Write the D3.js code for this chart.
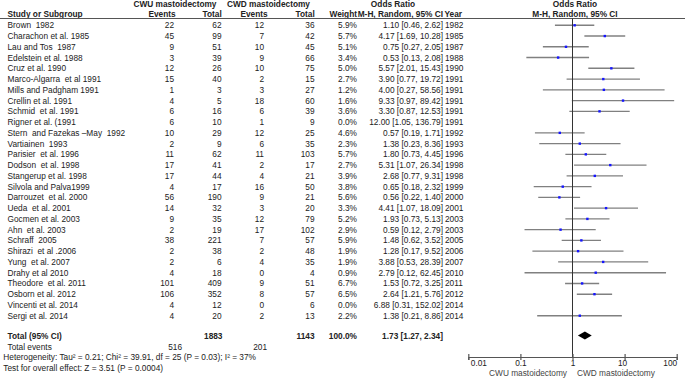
<!DOCTYPE html>
<html>
<head>
<meta charset="utf-8">
<script src="https://cdn.jsdelivr.net/npm/d3@7"></script>
<style>
  body { margin: 0; background: #fff; }
  svg text { font-family: "Liberation Sans", Arial, sans-serif; font-size: 8.3px; fill: #222; white-space: pre; }
  .bold { font-weight: bold; }
</style>
</head>
<body>
<svg id="chart" width="685" height="379"></svg>
<script>
const studies = ["Brown  1982", "Charachon et al. 1985", "Lau and Tos  1987", "Edelstein et al. 1988",
  "Cruz et al. 1990", "Marco-Algarra  et al 1991", "Mills and Padgham 1991", "Crellin et al. 1991",
  "Schmid  et al. 1991", "Rigner et al. (1991", "Stern  and Fazekas \u2013May  1992", "Vartiainen  1993",
  "Parisier  et al. 1996", "Dodson  et al. 1998", "Stangerup et al. 1998", "Silvola and Palva1999",
  "Darrouzet  et al. 2000", "Ueda  et al. 2001", "Gocmen et al. 2003", "Ahn  et al. 2003",
  "Schraff  2005", "Shirazi  et al .2006", "Yung  et al. 2007", "Drahy et al 2010",
  "Theodore  et al. 2011", "Osborn et al. 2012", "Vincenti et al. 2014", "Sergi et al. 2014"];
const cwuEvents = [22, 45, 9, 3, 12, 15, 1, 4, 6, 6, 10, 2, 11, 17, 17, 4, 56, 14, 9, 2, 38, 2, 2, 4, 101, 106, 4, 4];
const cwuTotal  = [62, 99, 51, 39, 26, 40, 3, 5, 16, 10, 29, 9, 62, 41, 44, 17, 190, 32, 35, 19, 221, 38, 6, 18, 409, 352, 12, 20];
const cwdEvents = [12, 7, 10, 9, 10, 2, 3, 18, 6, 1, 12, 6, 11, 2, 4, 16, 9, 3, 12, 17, 7, 2, 4, 0, 9, 8, 0, 2];
const cwdTotal  = [36, 42, 45, 66, 75, 15, 27, 60, 39, 9, 25, 35, 103, 17, 21, 50, 21, 20, 79, 102, 57, 48, 35, 4, 51, 57, 6, 13];
const weights   = [5.9, 5.7, 5.1, 3.4, 5.0, 2.7, 1.2, 1.6, 3.6, 0.0, 4.6, 2.3, 5.7, 2.7, 3.9, 3.8, 5.6, 3.3, 5.2, 2.9, 5.9, 1.9, 1.9, 0.9, 6.7, 6.5, 0.0, 2.2];
const orValues  = [1.10, 4.17, 0.75, 0.53, 5.57, 3.90, 4.00, 9.33, 3.30, 12.00, 0.57, 1.38, 1.80, 5.31, 2.68, 0.65, 0.56, 4.41, 1.93, 0.59, 1.48, 1.28, 3.88, 2.79, 1.53, 2.64, 6.88, 1.38];
const ciLow     = [0.46, 1.69, 0.27, 0.13, 2.01, 0.77, 0.27, 0.97, 0.87, 1.05, 0.19, 0.23, 0.73, 1.07, 0.77, 0.18, 0.22, 1.07, 0.73, 0.12, 0.62, 0.17, 0.53, 0.12, 0.72, 1.21, 0.31, 0.21];
const ciHigh    = [2.62, 10.28, 2.05, 2.08, 15.43, 19.72, 58.56, 89.42, 12.53, 136.79, 1.71, 8.36, 4.45, 26.34, 9.31, 2.32, 1.40, 18.09, 5.13, 2.79, 3.52, 9.52, 28.39, 62.45, 3.25, 5.76, 152.02, 8.86];
const years     = [1982, 1985, 1987, 1988, 1990, 1991, 1991, 1991, 1991, 1991, 1992, 1993, 1996, 1998, 1998, 1999, 2000, 2001, 2003, 2003, 2005, 2006, 2007, 2010, 2011, 2012, 2014, 2014];

const totalN = [1883, 1143];
const totalEvents = [516, 201];
const pooled = { or: 1.73, lo: 1.27, hi: 2.34 };
const axisTicks = [0.01, 0.1, 1, 10, 100];
const axisLabels = ["0.01", "0.1", "1", "10", "100"];

const fmt2 = d3.format(".2f");
const fmtW = d3.format(".1f");

const svg = d3.select("#chart");

const y = d3.scalePoint()
  .domain(d3.range(studies.length))
  .range([25.3, 315.7]);

const x = d3.scaleLog()
  .domain([0.01, 100])
  .range([468.3, 676.7]);

// column layout (x, anchor)
const cols = {
  name:   [7.5, "start"],
  cwuEv:  [174, "end"],
  cwuTot: [221.5, "end"],
  cwdEv:  [264, "end"],
  cwdTot: [314.5, "end"],
  weight: [357, "end"],
  or:     [443, "end"],
  year:   [445, "start"]
};

function addText(g, txt, xx, yy, anchor, cls) {
  return g.append("text")
    .attr("x", xx)
    .attr("y", yy)
    .attr("text-anchor", anchor)
    .attr("class", cls || null)
    .text(txt);
}

// header
const head = svg.append("g");
addText(head, "CWU mastoidectomy", 175, 7.3, "middle", "bold");
addText(head, "CWD mastoidectomy", 268.5, 7.3, "middle", "bold");
addText(head, "Odds Ratio", 393, 7.3, "middle", "bold");
addText(head, "Odds Ratio", 575, 7.3, "middle", "bold");
addText(head, "Study or Subgroup", 7.5, 16.5, "start", "bold");
addText(head, "Events", 175.6, 16.5, "end", "bold");
addText(head, "Total", 221.7, 16.5, "end", "bold");
addText(head, "Events", 267.7, 16.5, "end", "bold");
addText(head, "Total", 314.7, 16.5, "end", "bold");
addText(head, "Weight", 357, 16.5, "end", "bold");
addText(head, "M-H, Random, 95% CI", 443, 16.5, "end", "bold");
addText(head, "Year", 444.5, 16.5, "start", "bold");
addText(head, "M-H, Random, 95% CI", 575, 16.5, "middle", "bold");

svg.append("line")
  .attr("x1", 0).attr("x2", 685)
  .attr("y1", 18.5).attr("y2", 18.5)
  .attr("stroke", "#555").attr("stroke-width", 1);

// table rows
const rows = svg.append("g")
  .selectAll(".row")
  .data(d3.range(studies.length))
  .enter().append("g")
  .attr("class", "row")
  .attr("transform", function(i) { return `translate(0, ${y(i) + 3})`; });

rows.append("text").attr("x", cols.name[0]).attr("text-anchor", cols.name[1]).text(function(i) { return studies[i]; });
rows.append("text").attr("x", cols.cwuEv[0]).attr("text-anchor", cols.cwuEv[1]).text(function(i) { return cwuEvents[i]; });
rows.append("text").attr("x", cols.cwuTot[0]).attr("text-anchor", cols.cwuTot[1]).text(function(i) { return cwuTotal[i]; });
rows.append("text").attr("x", cols.cwdEv[0]).attr("text-anchor", cols.cwdEv[1]).text(function(i) { return cwdEvents[i]; });
rows.append("text").attr("x", cols.cwdTot[0]).attr("text-anchor", cols.cwdTot[1]).text(function(i) { return cwdTotal[i]; });
rows.append("text").attr("x", cols.weight[0]).attr("text-anchor", cols.weight[1]).text(function(i) { return fmtW(weights[i]) + "%"; });
rows.append("text").attr("x", cols.or[0]).attr("text-anchor", cols.or[1])
  .text(function(i) { return `${fmt2(orValues[i])} [${fmt2(ciLow[i])}, ${fmt2(ciHigh[i])}]`; });
rows.append("text").attr("x", cols.year[0]).attr("text-anchor", cols.year[1]).text(function(i) { return years[i]; });

// totals
const tot = svg.append("g");
addText(tot, "Total (95% CI)", 7.5, 339, "start", "bold");
addText(tot, totalN[0], 222.5, 339, "end", "bold");
addText(tot, totalN[1], 314.5, 339, "end", "bold");
addText(tot, "100.0%", 357, 339, "end", "bold");
addText(tot, `${fmt2(pooled.or)} [${fmt2(pooled.lo)}, ${fmt2(pooled.hi)}]`, 443, 339, "end", "bold");
addText(tot, "Total events", 7.5, 349.8, "start");
addText(tot, totalEvents[0], 182, 349.8, "end");
addText(tot, totalEvents[1], 267, 349.8, "end");
addText(tot, "Heterogeneity: Tau\u00b2 = 0.21; Chi\u00b2 = 39.91, df = 25 (P = 0.03); I\u00b2 = 37%", 3.3, 360.3, "start");
addText(tot, "Test for overall effect: Z = 3.51 (P = 0.0004)", 3.3, 370.5, "start");

// forest plot
const plot = svg.append("g");

// studies whose interval leaves the axis range are not drawn
const shown = d3.range(studies.length).filter(function(i) {
  return ciHigh[i] <= 100 && ciLow[i] >= 0.01;
});

plot.selectAll(".ci")
  .data(shown)
  .enter().append("line")
  .attr("class", "ci")
  .attr("x1", function(i) { return x(ciLow[i]); })
  .attr("x2", function(i) { return x(ciHigh[i]); })
  .attr("y1", function(i) { return y(i); })
  .attr("y2", function(i) { return y(i); })
  .attr("stroke", "#808080")
  .attr("stroke-width", 1.4);

// null line
plot.append("line")
  .attr("x1", x(1)).attr("x2", x(1))
  .attr("y1", 18.5).attr("y2", 357)
  .attr("stroke", "#333").attr("stroke-width", 1);

plot.selectAll(".pt")
  .data(shown)
  .enter().append("rect")
  .attr("class", "pt")
  .attr("x", function(i) { return x(orValues[i]) - 1.2; })
  .attr("y", function(i) { return y(i) - 1.2; })
  .attr("width", 2.4)
  .attr("height", 2.4)
  .attr("fill", "#1515ff");

// pooled diamond
const yd = 335.5;
plot.append("path")
  .attr("d", `M${x(pooled.lo)},${yd} L${x(pooled.or)},${yd - 4} L${x(pooled.hi)},${yd} L${x(pooled.or)},${yd + 4} Z`)
  .attr("fill", "#000");

// axis
const axis = d3.axisBottom(x)
  .tickValues(axisTicks)
  .tickSize(3)
  .tickFormat(function(d, i) { return axisLabels[i]; });

const ax = svg.append("g")
  .attr("transform", "translate(0, 357)")
  .call(axis);

ax.select(".domain").attr("stroke", "#555").attr("stroke-width", 1.2);
ax.selectAll(".tick line").attr("y1", -3).attr("y2", 3).attr("stroke", "#555").attr("stroke-width", 1.2);
ax.selectAll(".tick text")
  .attr("y", 8.5)
  .attr("dy", 0)
  .style("font-family", "\"Liberation Sans\", Arial, sans-serif")
  .style("font-size", "8.3px")
  .attr("fill", "#222")
  .attr("text-anchor", function(d, i) {
    if (i == 0) return "start";
    if (i == axisTicks.length - 1) return "end";
    return "middle";
  })
  .attr("dx", function(d, i) { return i == 0 ? 2 : (i == 3 ? -2.5 : 0); });

addText(svg, "CWU mastoidectomy", 567, 375.5, "end").attr("fill", "#444").style("fill", "#444");
addText(svg, "CWD mastoidectomy", 577, 375.5, "start").style("fill", "#444");
</script>
</body>
</html>
